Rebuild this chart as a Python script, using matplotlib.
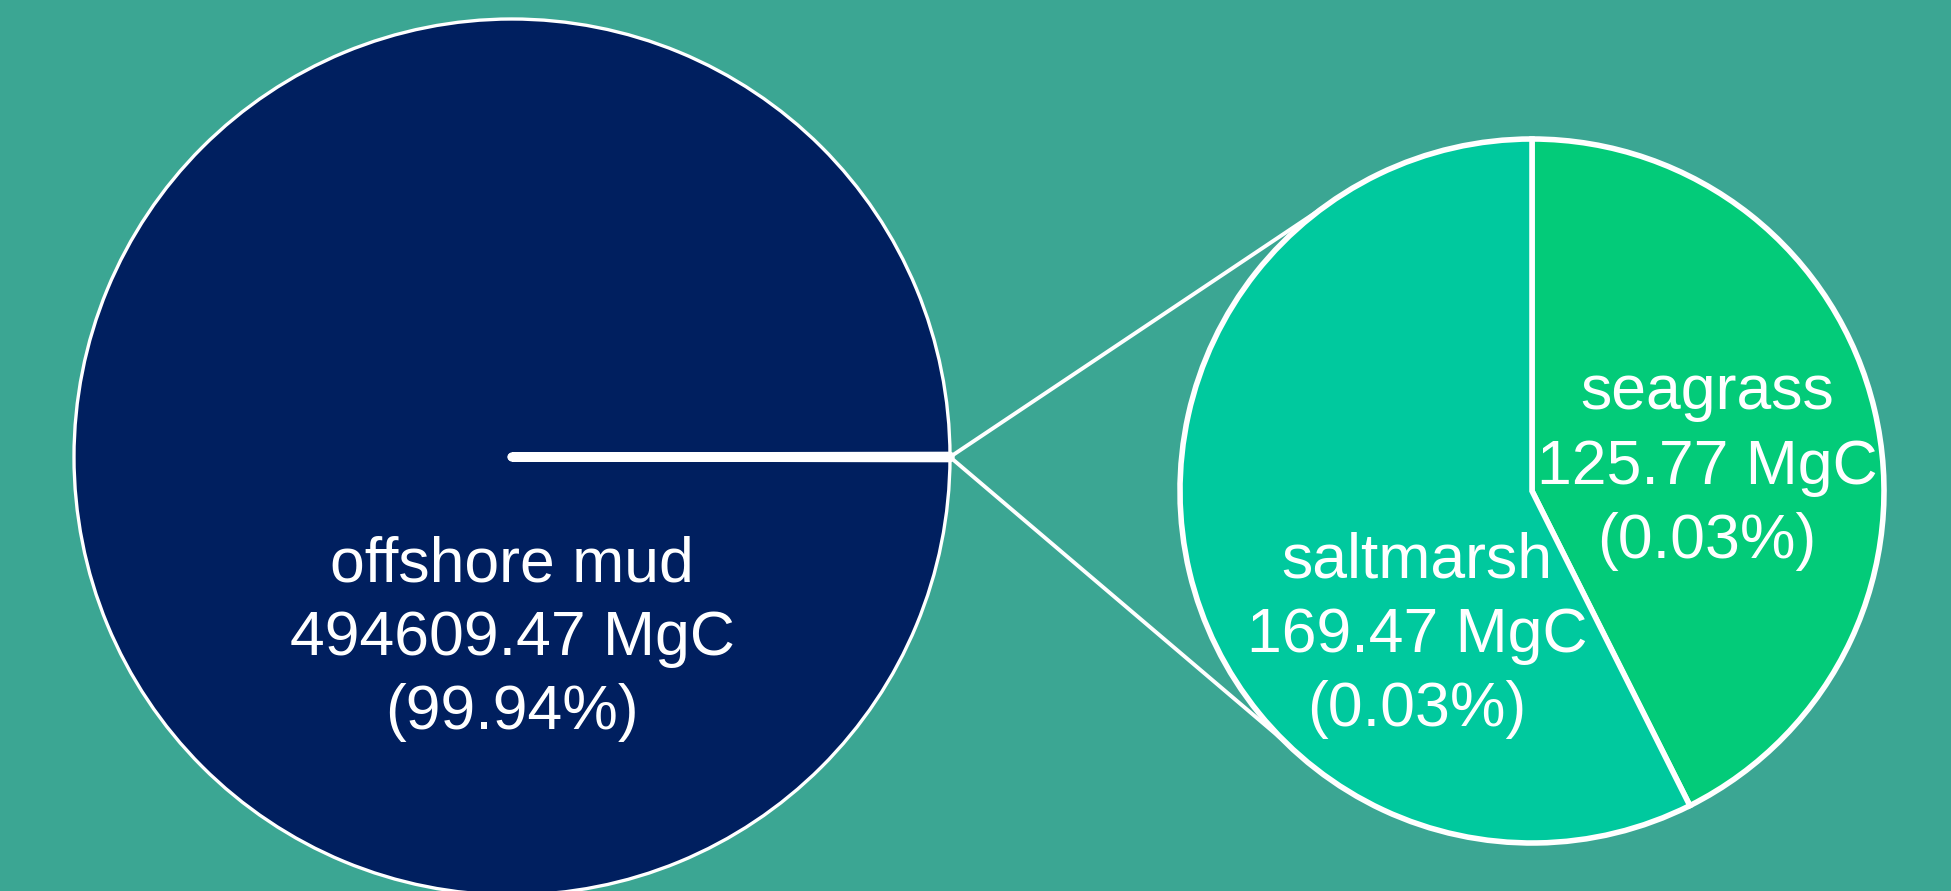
import numpy as np
import matplotlib.pyplot as plt
from matplotlib.patches import ConnectionPatch

# ===================== DATOS =====================
habitats = ["offshore mud", "saltmarsh", "seagrass"]
carbon_mgc = [494609.47, 169.47, 125.77]

bg_color = "#3ba693"
colors = {"offshore mud": "#001f5f", "saltmarsh": "#00c99e", "seagrass": "#03cb79"}

total = sum(carbon_mgc)
pct = [100.0 * v / total for v in carbon_mgc]


def etiqueta(i):
    return f"{habitats[i]}\n{carbon_mgc[i]:.2f} MgC\n({pct[i]:.2f}%)"


# ===================== FIGURA =====================
W, H = 1951, 891
fig = plt.figure(figsize=(W / 100, H / 100), dpi=100)
fig.patch.set_facecolor(bg_color)
plt.rcParams["font.family"] = ["Liberation Sans", "DejaVu Sans"]

# pie grande: centro (512, 457) px, radio 438 px
R1, cx1, cy1 = 438, 512, 457
ax1 = fig.add_axes([(cx1 - R1) / W, (H - cy1 - R1) / H, 2 * R1 / W, 2 * R1 / H])
# pie pequeño: centro (1532, 491) px, radio 352 px
R2, cx2, cy2 = 352, 1532, 491
ax2 = fig.add_axes([(cx2 - R2) / W, (H - cy2 - R2) / H, 2 * R2 / W, 2 * R2 / H])

# --- pie grande ---
small_frac = (carbon_mgc[1] + carbon_mgc[2]) / total
w1, _ = ax1.pie(carbon_mgc, radius=1, startangle=small_frac * 360 / 2,
                colors=[colors[h] for h in habitats],
                wedgeprops=dict(edgecolor="white", linewidth=2.4))
for w in w1[1:]:
    w.set_facecolor("white")
    w.set_linewidth(6.5)
    w.set_joinstyle("round")
    w.set_capstyle("round")
ax1.text(0, -0.415, etiqueta(0), ha="center", va="center", color="white",
         fontsize=45, linespacing=1.33)
ax1.set_xlim(-1, 1)
ax1.set_ylim(-1, 1)
ax1.axis("off")

# --- pie pequeño ---
sub_vals = [carbon_mgc[2], carbon_mgc[1]]
w2, _ = ax2.pie(sub_vals, radius=1, startangle=90, counterclock=False,
                colors=[colors["seagrass"], colors["saltmarsh"]],
                wedgeprops=dict(edgecolor="white", linewidth=4.0))
ax2.text(0.497, 0.068, etiqueta(2), ha="center", va="center", color="white",
         fontsize=45, linespacing=1.33)
ax2.text(-0.327, -0.41, etiqueta(1), ha="center", va="center", color="white",
         fontsize=45, linespacing=1.33)
ax2.set_xlim(-1, 1)
ax2.set_ylim(-1, 1)
ax2.axis("off")

# --- líneas de conexión ---
for ang in [126.0, 225.5]:
    a = np.deg2rad(ang)
    con = ConnectionPatch(xyA=(1.0, 0.0), coordsA=ax1.transData,
                          xyB=(np.cos(a), np.sin(a)), coordsB=ax2.transData,
                          color="white", linewidth=2.8)
    fig.add_artist(con)

plt.savefig("out.png", dpi=100, facecolor=bg_color)
